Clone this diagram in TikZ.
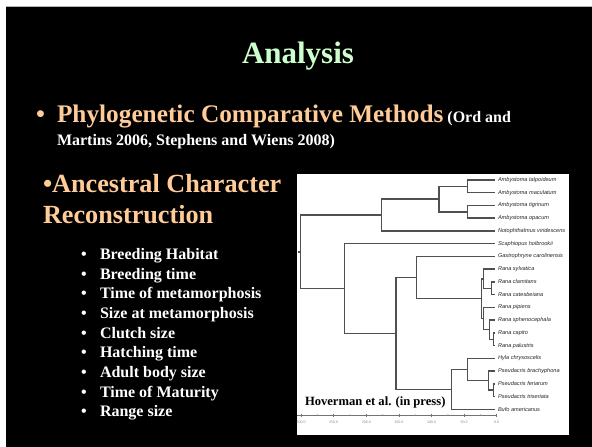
\documentclass[tikz,border=0pt]{standalone}
\usepackage{fontspec}
\setmainfont{Liberation Serif}
\newfontfamily\leaffont{Liberation Sans}

\definecolor{titlegreen}{HTML}{CCFFCC}
\definecolor{peach}{HTML}{FFCC99}
\definecolor{branchgray}{HTML}{505050}

\begin{document}
\begin{tikzpicture}[
    x=1pt, y=-1pt,
    every node/.style={inner sep=0pt, outer sep=0pt},
    heading/.style={anchor=base west, text=peach, font=\bfseries\fontsize{25.3}{30}\selectfont},
    bigheading/.style={anchor=base west, text=peach, font=\bfseries\fontsize{26.2}{30}\selectfont},
    smallref/.style={anchor=base west, text=white, font=\bfseries\fontsize{16}{19}\selectfont},
    item/.style={anchor=base west, text=white, font=\bfseries\fontsize{16}{19}\selectfont},
    branch/.style={draw=branchgray, line width=1.5pt},
    leaflabel/.style={anchor=west, text=black!85, font=\leaffont\itshape\fontsize{5.6}{6}\selectfont},
    ticklabel/.style={anchor=north, text=black!45, font=\leaffont\fontsize{3.6}{4}\selectfont}
]

\useasboundingbox (0,0) rectangle (592,447);

% slide background
\fill[white] (0,0) rectangle (592,447);
\fill[black] (6,6) rectangle (592,447);
\draw[gray!60, line width=1pt] (6,6.5) -- (592,6.5);

% title
\node[anchor=base, text=titlegreen, font=\bfseries\fontsize{31}{36}\selectfont] (title) at (298,63) {Analysis};

% first point
\node[heading] (b1) at (36,122) {•};
\node[heading] (pcm) at (57,122) {Phylogenetic Comparative Methods};
\node[smallref] (refa) at ([xshift=4pt]pcm.base east) {(Ord and};
\node[smallref] (refb) at (57,145) {Martins 2006, Stephens and Wiens 2008)};

% second point
\node[bigheading] (acr) at (43,192.5) {•Ancestral Character};
\node[bigheading] (acr2) at (43,223) {Reconstruction};

% traits
\foreach \i/\txt in {0/Breeding Habitat, 1/Breeding time, 2/Time of metamorphosis,
    3/Size at metamorphosis, 4/Clutch size, 5/Hatching time, 6/Adult body size,
    7/Time of Maturity, 8/Range size} {
  \node[item] (dot\i) at (81,259.3+19.7*\i) {•};
  \node[item] (trait\i) at (100,259.3+19.7*\i) {\txt};
}

% tree panel
\fill[white] (297,174) rectangle (569,435);

% leaves
\foreach \name/\k/\txt in {atal/0/Ambystoma talpoideum, amac/1/Ambystoma maculatum,
    atig/2/Ambystoma tigrinum, aopa/3/Ambystoma opacum, nvir/4/Notophthalmus viridescens,
    shol/5/Scaphiopus holbrookii, gcar/6/Gastrophryne carolinensis, rsyl/7/Rana sylvatica,
    rcla/8/Rana clamitans, rcat/9/Rana catesbeiana, rpip/10/Rana pipiens,
    rsph/11/Rana sphenocephala, rcap/12/Rana capito, rpal/13/Rana palustris,
    hchr/14/Hyla chrysoscelis, pbra/15/Pseudacris brachyphona, pfer/16/Pseudacris feriarum,
    ptri/17/Pseudacris triseriata, bame/18/Bufo americanus} {
  \coordinate (\name) at (495,180+12.74*\k);
  \node[leaflabel] (\name-l) at ([xshift=3pt]\name) {\txt};
}

% internal nodes
\coordinate (ambA) at (467.3,186.4);
\coordinate (ambB) at (467.3,211.9);
\coordinate (amb)  at (439,199.1);
\coordinate (sal)  at (381.7,215.1);
\coordinate (ranC) at (491.7,288.3);
\coordinate (ranU) at (483.3,278.8);
\coordinate (ranP) at (493.5,339.3);
\coordinate (ranS) at (489.5,329.7);
\coordinate (ranL) at (483.5,318.6);
\coordinate (rana) at (481.7,298.7);
\coordinate (gast) at (416.7,277.5);
\coordinate (pseB) at (493.3,390.2);
\coordinate (pse)  at (488.5,380.7);
\coordinate (hyl)  at (467.7,369.5);
\coordinate (buf)  at (451.7,389.4);
\coordinate (anu)  at (396,333.5);
\coordinate (frog) at (344.3,288.6);
\coordinate (root) at (300.3,251.8);
\coordinate (stub) at (297.5,251.8);

% branches
\foreach \p/\c in {ambA/atal, ambA/amac, ambB/atig, ambB/aopa, amb/ambA, amb/ambB,
    sal/amb, sal/nvir, ranC/rcla, ranC/rcat, ranU/rsyl, ranU/ranC, ranP/rcap, ranP/rpal,
    ranS/rsph, ranS/ranP, ranL/rpip, ranL/ranS, rana/ranU, rana/ranL, gast/gcar,
    gast/rana, pseB/pfer, pseB/ptri, pse/pbra, pse/pseB, hyl/hchr, hyl/pse, buf/hyl,
    buf/bame, anu/gast, anu/buf, frog/shol, frog/anu, root/sal, root/frog}
  \draw[branch] (\p) |- (\c);
\draw[branch] (stub) -- (root);

% time axis
\coordinate (axL) at (297,415);
\coordinate (axR) at (496.7,415);
\draw[black!55, line width=0.8pt] (axL) -- (axR);
\foreach \k/\lab in {0/0.0, 1/50.0, 2/100.0, 3/150.0, 4/200.0, 5/250.0, 6/300.0} {
  \draw[black!55, line width=0.8pt] (496.7-32.6*\k,413.5) -- (496.7-32.6*\k,416.5);
  \node[ticklabel] (tick\k) at (496.7-32.6*\k,420.5) {\lab};
}
\foreach \k in {0,...,5}
  \fill[black!45] (480.4-32.6*\k,415) circle (0.7);

\node[anchor=base west, text=black, font=\bfseries\fontsize{12.6}{15}\selectfont] (cite) at (305,405) {Hoverman et al. (in press)};

\end{tikzpicture}
\end{document}
